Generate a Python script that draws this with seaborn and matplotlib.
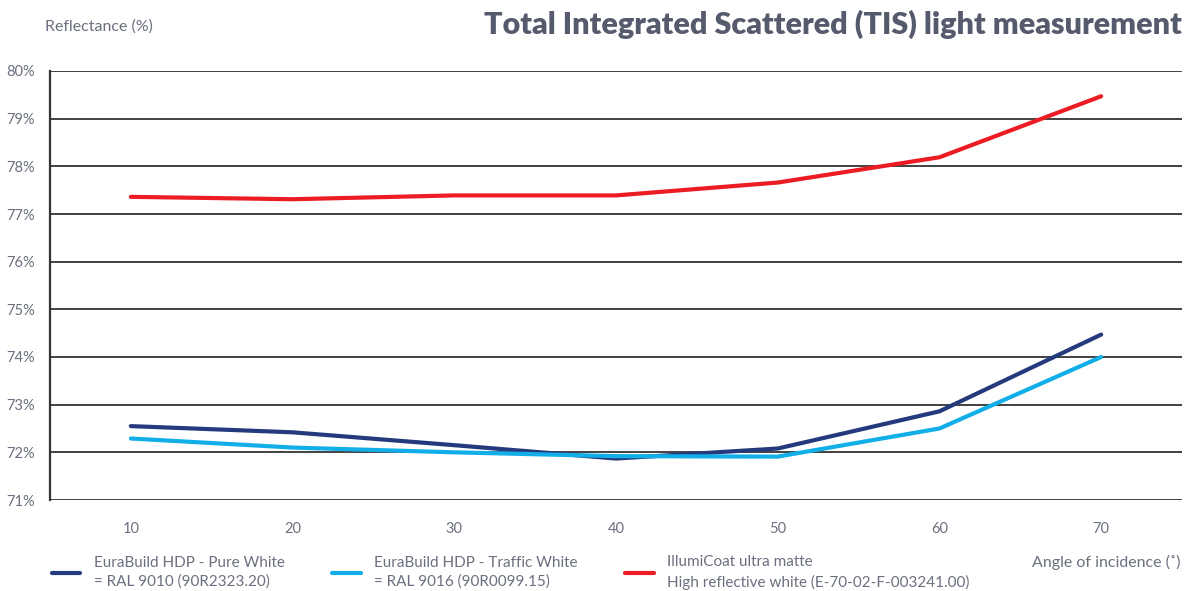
import pandas as pd
import numpy as np
import seaborn as sns
import matplotlib.pyplot as plt

# data
angles = [10, 20, 30, 40, 50, 60, 70]
pure_white = [72.55, 72.42, 72.15, 71.87, 72.08, 72.86, 74.47]
traffic_white = [72.29, 72.10, 72.00, 71.92, 71.91, 72.50, 74.00]
illumicoat = [77.36, 77.31, 77.39, 77.39, 77.66, 78.19, 79.47]

series_names = ['EuraBuild HDP - Pure White\n= RAL 9010 (90R2323.20)',
                'EuraBuild HDP - Traffic White\n= RAL 9016 (90R0099.15)',
                'IllumiCoat ultra matte\nHigh reflective white (E-70-02-F-003241.00)']
colors = ['#253a7c', '#11aee8', '#ec1c24']
y_ticks = [71, 72, 73, 74, 75, 76, 77, 78, 79, 80]

df = pd.DataFrame({
    'angle': angles * 3,
    'value': pure_white + traffic_white + illumicoat,
    'series': [series_names[0]] * 7 + [series_names[1]] * 7 + [series_names[2]] * 7,
})

sns.set_style('white')
plt.rcParams['font.family'] = ['Lato', 'DejaVu Sans']
grey = '#6b7080'

fig = plt.figure(figsize=(11.92, 5.91), dpi=100)
ax = fig.add_axes([50 / 1192, 1 - 500 / 591, 1132 / 1192, 429 / 591])

for yv in y_ticks:
    ax.axhline(yv, color='#333333', lw=1.3, zorder=1)

sns.lineplot(data=df, x='angle', y='value', hue='series', palette=colors,
             linewidth=3, ax=ax, zorder=3, legend=True)

ax.set_xlim(5, 75)
ax.set_ylim(71, 80)
ax.set_yticks(y_ticks)
ax.set_yticklabels([f'{v}%' for v in y_ticks])
ax.set_xticks(angles)
ax.tick_params(axis='y', length=5, width=1.3, color='#333333', labelsize=10.5, labelcolor=grey, pad=6)
ax.tick_params(axis='x', length=0, labelsize=10.5, labelcolor=grey, pad=16)
ax.set_xlabel('')
ax.set_ylabel('')
for s in ['top', 'right', 'bottom']:
    ax.spines[s].set_visible(False)
ax.spines['left'].set_color('#333333')
ax.spines['left'].set_linewidth(1.6)

handles, labels = ax.get_legend_handles_labels()
ax.legend_.remove()
leg = fig.legend(handles, labels, loc='upper left', bbox_to_anchor=(46 / 1192, 1 - 549 / 591),
                 ncol=3, frameon=False, fontsize=11, labelcolor=grey, handlelength=1.85,
                 handletextpad=0.9, columnspacing=3.1, borderaxespad=0)
for t in leg.get_texts():
    t.set_linespacing(1.45)

fig.text(1180 / 1192, 1 - 562 / 591, 'Angle of incidence (˚)', ha='right', va='center',
         fontsize=11.5, color=grey)
fig.text(45 / 1192, 1 - 27 / 591, 'Reflectance (%)', ha='left', va='center',
         fontsize=11.5, color=grey)
fig.text(1182 / 1192, 1 - 24 / 591, 'Total Integrated Scattered (TIS) light measurement',
         ha='right', va='center', fontsize=22, fontweight='heavy', color='#555b6d')

fig.savefig('out.png', dpi=100)
